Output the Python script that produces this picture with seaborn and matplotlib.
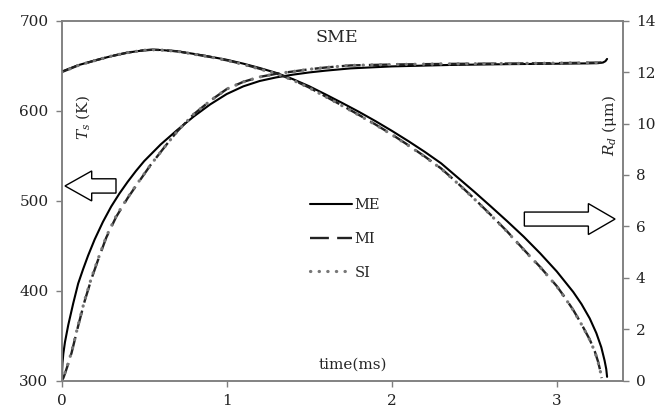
import numpy as np
import pandas as pd
import matplotlib
matplotlib.use('Agg')
import matplotlib.pyplot as plt
from matplotlib.patches import FancyArrow
import seaborn as sns

# surface temperature Ts (K), left axis
ts_me_t = [0, 0.005, 0.01, 0.02, 0.04, 0.07, 0.1, 0.13, 0.16, 0.2, 0.25, 0.3, 0.35, 0.4, 0.45, 0.5,
           0.6, 0.7, 0.8, 0.9, 1.0, 1.1, 1.2, 1.3, 1.4, 1.5, 1.6, 1.75, 2.0, 2.35, 2.7, 3.0, 3.2,
           3.25, 3.28, 3.295, 3.305]
ts_me = [300, 320, 330, 343, 362, 386, 408, 424, 439, 457, 476.5, 493.5, 508, 521, 533, 544,
         562.5, 578.5, 593.5, 607, 618.5, 627, 633, 637, 640, 642.5, 644.5, 647, 649.2, 650.8, 651.7, 652.2, 652.6,
         652.8, 653.5, 655, 657.5]

ts_mi_t = [0, 0.01, 0.02, 0.04, 0.06, 0.1, 0.14, 0.18, 0.22, 0.27, 0.33, 0.4, 0.46, 0.54, 0.625,
           0.7, 0.8, 0.9, 1.0, 1.1, 1.2, 1.3, 1.4, 1.5, 1.6, 1.75, 2.0, 2.35, 2.7, 3.0, 3.27]
ts_mi = [300, 303, 308, 319, 331, 361, 389, 413, 434, 459, 482, 503, 519, 540, 560,
         577, 596, 611, 624, 632, 637.5, 641, 643.5, 646, 648, 650.3, 651.3, 652, 652.4, 652.8, 653.5]

ts_si_t = [0, 0.01, 0.02, 0.04, 0.06, 0.1, 0.14, 0.18, 0.22, 0.27, 0.33, 0.4, 0.46, 0.54, 0.625,
           0.7, 0.8, 0.9, 1.0, 1.1, 1.2, 1.3, 1.4, 1.5, 1.6, 1.75, 2.0, 2.35, 2.7, 3.0, 3.27]
ts_si = [300, 304, 309, 320, 332, 362, 390, 414, 435, 460, 483, 503.5, 519.5, 540, 560,
         577, 596, 611, 624, 632, 637.5, 641, 643.5, 646, 648, 650.3, 651.3, 652, 652.4, 652.8, 653.5]

# droplet radius Rd (um), right axis
rd_me_t = [0, 0.1, 0.2, 0.3, 0.4, 0.5, 0.55, 0.6, 0.7, 0.8, 0.9, 1.0, 1.1, 1.2, 1.3, 1.4, 1.5,
           1.6, 1.7, 1.8, 1.9, 2.0, 2.1, 2.2, 2.3, 2.4, 2.5, 2.6, 2.7, 2.8, 2.9, 3.0, 3.1, 3.15,
           3.2, 3.24, 3.27, 3.29, 3.3, 3.305]
rd_me = [12.02, 12.27, 12.45, 12.62, 12.76, 12.85, 12.87, 12.86, 12.81, 12.71, 12.6, 12.48, 12.33,
         12.16, 11.97, 11.73, 11.45, 11.13, 10.8, 10.46, 10.1, 9.72, 9.32, 8.9, 8.45, 7.9, 7.35,
         6.78, 6.2, 5.6, 4.95, 4.25, 3.45, 2.98, 2.42, 1.85, 1.3, 0.78, 0.45, 0.15]

rd_mi_t = [0, 0.1, 0.2, 0.3, 0.4, 0.5, 0.55, 0.6, 0.7, 0.8, 0.9, 1.0, 1.1, 1.2, 1.3, 1.4, 1.5,
           1.6, 1.7, 1.8, 1.9, 2.0, 2.1, 2.2, 2.3, 2.4, 2.5, 2.6, 2.7, 2.8, 2.9, 3.0, 3.05, 3.1,
           3.15, 3.2, 3.23, 3.25, 3.265, 3.272]
rd_mi = [12.0, 12.26, 12.45, 12.62, 12.76, 12.85, 12.87, 12.86, 12.81, 12.7, 12.59, 12.46, 12.31,
         12.13, 11.95, 11.7, 11.4, 11.05, 10.7, 10.34, 9.97, 9.58, 9.16, 8.72, 8.25, 7.68, 7.08,
         6.45, 5.8, 5.1, 4.42, 3.68, 3.23, 2.75, 2.2, 1.6, 1.15, 0.75, 0.35, 0.1]

rd_si_t = [0, 0.1, 0.2, 0.3, 0.4, 0.5, 0.55, 0.6, 0.7, 0.8, 0.9, 1.0, 1.1, 1.2, 1.3, 1.4, 1.5,
           1.6, 1.7, 1.8, 1.9, 2.0, 2.1, 2.2, 2.3, 2.4, 2.5, 2.6, 2.7, 2.8, 2.9, 3.0, 3.05, 3.1,
           3.15, 3.2, 3.23, 3.25, 3.265, 3.272]
rd_si = [12.0, 12.26, 12.45, 12.62, 12.76, 12.85, 12.87, 12.86, 12.81, 12.7, 12.59, 12.46, 12.3,
         12.12, 11.94, 11.69, 11.39, 11.04, 10.69, 10.33, 9.96, 9.57, 9.15, 8.71, 8.24, 7.67, 7.07,
         6.44, 5.79, 5.09, 4.41, 3.67, 3.22, 2.74, 2.19, 1.59, 1.14, 0.74, 0.34, 0.1]

labels = ['ME', 'MI', 'SI']

sns.set_style('white')
plt.rcParams['font.family'] = ['DejaVu Serif']
plt.rcParams['mathtext.fontset'] = 'dejavuserif'

grey = '#7f7f7f'
dot_col = '#777777'

fig = plt.figure(figsize=(6.59, 4.08), dpi=100)
ax = fig.add_axes([0.0936, 0.0669, 0.8514, 0.8824])
ax2 = ax.twinx()

styles = [dict(color='black', lw=1.5, ls='-'),
          dict(color='#222222', lw=1.7, ls=(0, (8, 3.5))),
          dict(color=dot_col, lw=2.3, ls=(0, (0.1, 2.6)), dash_capstyle='round')]

ts_sets = [(ts_me_t, ts_me), (ts_mi_t, ts_mi), (ts_si_t, ts_si)]
rd_sets = [(rd_me_t, rd_me), (rd_mi_t, rd_mi), (rd_si_t, rd_si)]

for (tx, ty), st in zip(ts_sets, styles):
    sns.lineplot(x=tx, y=ty, ax=ax, sort=False, estimator=None, **st)

for (tx, ty), st, lab in zip(rd_sets, styles, labels):
    sns.lineplot(x=tx, y=ty, ax=ax2, sort=False, estimator=None, label=lab, **st)

ax.set_xlim(0, 3.4)
ax.set_ylim(300, 700)
ax2.set_ylim(0, 14)
ax.set_xticks([0, 1, 2, 3])
ax.set_yticks([300, 400, 500, 600, 700])
ax2.set_yticks(range(0, 15, 2))
ax.set_xlabel('')
ax.set_ylabel('')

for a in (ax, ax2):
    for s in a.spines.values():
        s.set_color(grey)
        s.set_linewidth(1.1)
    a.tick_params(axis='both', which='both', direction='out', length=4.5, width=1.0,
                  color=grey, labelsize=11, pad=5, labelcolor='#222222')
ax.tick_params(left=True, bottom=True)
ax2.tick_params(right=True)

ax2.legend(loc='upper left', bbox_to_anchor=(0.4426, 0.507), frameon=False,
           borderpad=0, borderaxespad=0, handlelength=2.9, handletextpad=0.15,
           labelspacing=1.35, fontsize=10.5)

ax.text(0.490, 0.953, 'SME', transform=ax.transAxes, ha='center', va='center', fontsize=12.5)
ax.text(0.519, 0.045, 'time(ms)', transform=ax.transAxes, ha='center', va='center', fontsize=11)
ax.text(0.038, 0.73, r'$T_s$ (K)', transform=ax.transAxes, ha='center', va='center',
        rotation=90, fontsize=11)
ax.text(0.977, 0.71, r'$R_d$ ($\mathrm{\mu}$m)', transform=ax.transAxes, ha='center', va='center',
        rotation=90, fontsize=11)

# hollow arrows pointing at the axes
ax2.add_patch(FancyArrow(0.0968, 0.541, -0.0909, 0, width=0.0397, head_width=0.0833,
                         head_length=0.0476, length_includes_head=True, transform=ax.transAxes,
                         facecolor='white', edgecolor='black', lw=1.0, clip_on=False))
ax2.add_patch(FancyArrow(0.8246, 0.449, 0.1617, 0, width=0.0389, head_width=0.086,
                         head_length=0.0476, length_includes_head=True, transform=ax.transAxes,
                         facecolor='white', edgecolor='black', lw=1.0, clip_on=False))

plt.savefig('out.png', dpi=100)
